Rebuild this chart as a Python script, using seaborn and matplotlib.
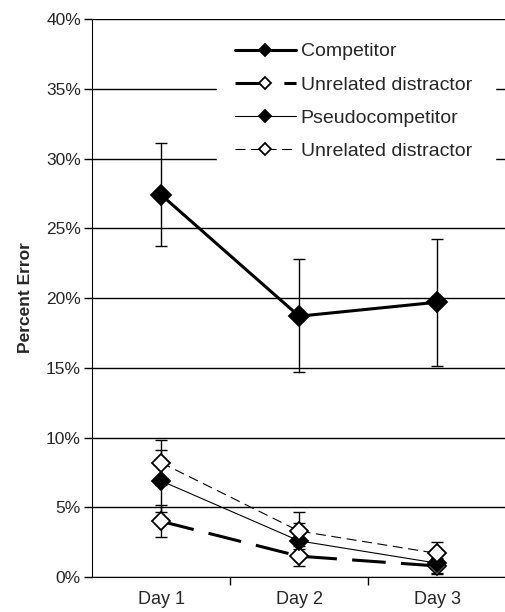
import matplotlib
matplotlib.use('Agg')
import matplotlib.pyplot as plt
import seaborn as sns
import pandas as pd
from matplotlib.ticker import FuncFormatter, FixedLocator

# data (percent)
days = ['Day 1', 'Day 2', 'Day 3']
competitor = [27.4, 18.7, 19.7]
competitor_lo = [23.7, 14.7, 15.1]
competitor_hi = [31.1, 22.8, 24.2]
unrel_a = [4.0, 1.5, 0.8]
unrel_a_lo = [2.9, 0.8, 0.2]
unrel_a_hi = [5.2, 2.2, 1.4]
pseudo = [6.9, 2.6, 1.0]
pseudo_lo = [4.7, 1.5, 0.3]
pseudo_hi = [9.1, 3.9, 1.7]
unrel_b = [8.2, 3.3, 1.7]
unrel_b_lo = [6.6, 2.0, 0.9]
unrel_b_hi = [9.8, 4.7, 2.5]

series = [
    ('Competitor', competitor, competitor_lo, competitor_hi, '-', 2.2, 'black', 10),
    ('Unrelated distractor ', unrel_a, unrel_a_lo, unrel_a_hi, (0, (11, 5)), 2.2, 'white', 9),
    ('Pseudocompetitor', pseudo, pseudo_lo, pseudo_hi, '-', 0.8, 'black', 9),
    ('Unrelated distractor', unrel_b, unrel_b_lo, unrel_b_hi, (0, (9, 5)), 0.8, 'white', 9),
]

sns.set_style('white')
plt.rcParams['font.family'] = ['Liberation Sans', 'DejaVu Sans']

fig, ax = plt.subplots(figsize=(5.06, 6.12), dpi=100)
fig.subplots_adjust(left=0.182, right=1.0, top=0.969, bottom=0.057)

x = [1, 2, 3]
for name, vals, lo, hi, ls, lw, fc, ms in series:
    df = pd.DataFrame({'x': x, 'y': vals})
    yerr = [[v - l for v, l in zip(vals, lo)], [h - v for v, h in zip(vals, hi)]]
    ax.errorbar(x, vals, yerr=yerr, fmt='none', ecolor='black', elinewidth=1, capsize=4.5, capthick=1, zorder=3)
    sns.lineplot(data=df, x='x', y='y', ax=ax, color='black', linestyle=ls, linewidth=lw,
                 marker='D', markersize=ms, markerfacecolor=fc, markeredgecolor='black',
                 markeredgewidth=1.3, label=name, zorder=4)

ax.set_xlim(0.5, 3.5)
ax.set_ylim(0, 40)
ax.set_yticks(range(0, 41, 5))
ax.yaxis.set_major_formatter(FuncFormatter(lambda v, p: f'{int(v)}%'))
ax.xaxis.set_major_locator(FixedLocator([1.5, 2.5]))
ax.xaxis.set_major_formatter(FuncFormatter(lambda v, p: ''))
for i, d in enumerate(days):
    ax.text(x[i], -1.0, d, ha='center', va='top', fontsize=13, transform=ax.transData)
ax.grid(axis='y', color='black', linewidth=1.0)
ax.set_axisbelow(True)
for s in ['top', 'right']:
    ax.spines[s].set_visible(False)
ax.spines['left'].set_color('black')
ax.spines['bottom'].set_color('black')
ax.tick_params(axis='both', direction='out', length=6, color='black', width=1, left=True, bottom=True,
               labelsize=12.5, pad=2)
ax.set_xlabel('')
ax.set_ylabel('Percent Error', fontsize=12.5, fontweight='bold', labelpad=9)

leg = ax.legend(loc='upper right', bbox_to_anchor=(0.973, 0.9886), frameon=True, fontsize=14,
                handlelength=3.15, handletextpad=0.25, labelspacing=0.8, borderpad=0.9,
                borderaxespad=0)
leg.get_frame().set_edgecolor('white')
leg.get_frame().set_facecolor('white')
leg.get_frame().set_alpha(1)
leg.get_frame().set_boxstyle('square', pad=0)
for h in leg.legend_handles:
    h.set_markersize(6)

fig.savefig('out.png', dpi=100)
